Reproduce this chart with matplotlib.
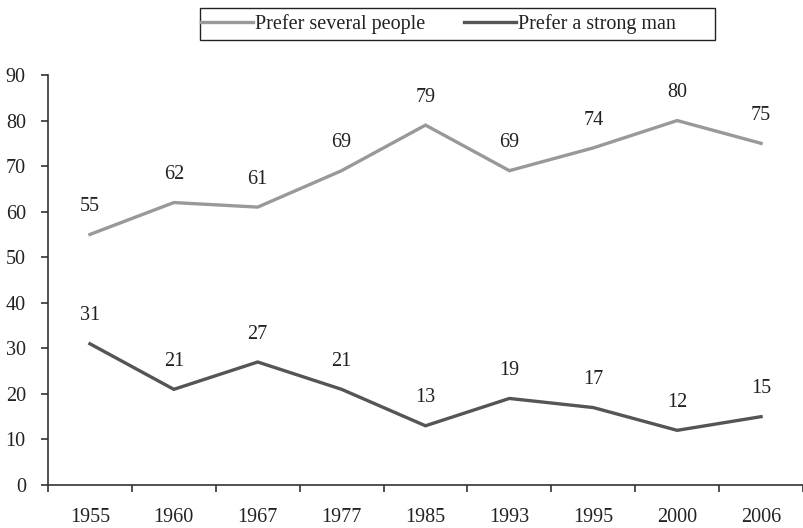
import matplotlib
matplotlib.use("Agg")
import matplotlib.pyplot as plt
from matplotlib.patches import Rectangle
import numpy as np

years = ["1955", "1960", "1967", "1977", "1985", "1993", "1995", "2000", "2006"]
several = [55, 62, 61, 69, 79, 69, 74, 80, 75]
strong = [31, 21, 27, 21, 13, 19, 17, 12, 15]
yticks = [0, 10, 20, 30, 40, 50, 60, 70, 80, 90]

plt.rcParams['font.family'] = ['Liberation Serif', 'DejaVu Serif']
FS = 14.5
TC = '#222222'

fig = plt.figure(figsize=(8.04, 5.28), dpi=100)
ax = fig.add_axes([48/804, 1-485/528, (803-48)/804, (485-75)/528])

x = np.arange(len(years))
c1 = '#999999'
c2 = '#555555'
l1, = ax.plot(x, several, color=c1, lw=2.4, label='Prefer several people', solid_joinstyle='miter')
l2, = ax.plot(x, strong, color=c2, lw=2.4, label='Prefer a strong man', solid_joinstyle='miter')

for xi, v in zip(x, several):
    ax.annotate(str(v), (xi, v), xytext=(0, 20), textcoords='offset points',
                ha='center', va='center', fontsize=FS, color=TC)
for xi, v in zip(x, strong):
    ax.annotate(str(v), (xi, v), xytext=(0, 20), textcoords='offset points',
                ha='center', va='center', fontsize=FS, color=TC)

ax.set_xlim(-0.5, len(years) - 0.5)
ax.set_ylim(0, 90)
ax.set_yticks(yticks)
ax.set_yticklabels([str(t) for t in yticks], fontsize=FS, color=TC)
ax.set_xticks(x)
ax.set_xticklabels(years, fontsize=FS, color=TC)
ax.set_xticks(np.arange(len(years) + 1) - 0.5, minor=True)
ax.tick_params(axis='x', which='major', length=0, pad=16.5)
ax.tick_params(axis='x', which='minor', length=5, width=1.2, direction='out', color='#333333')
ax.tick_params(axis='y', length=5, width=1.2, direction='out', pad=11, color='#333333')
for s in ['top', 'right']:
    ax.spines[s].set_visible(False)
for s in ['left', 'bottom']:
    ax.spines[s].set_linewidth(1.2)
    ax.spines[s].set_color('#333333')

# legend frame
fig.patches.append(Rectangle((200/804, 1-40/528), (715-200)/804, 32/528,
                             transform=fig.transFigure, fill=False,
                             edgecolor=TC, linewidth=1.0))
leg = fig.legend(handles=[l1, l2], loc='center left', bbox_to_anchor=(201/804, 1-24/528),
                 ncol=2, fontsize=FS, frameon=False,
                 handlelength=2.6, handletextpad=0.1, columnspacing=1.9,
                 borderpad=0, borderaxespad=0)
for t in leg.get_texts():
    t.set_color(TC)

fig.savefig('out.png', dpi=100)
